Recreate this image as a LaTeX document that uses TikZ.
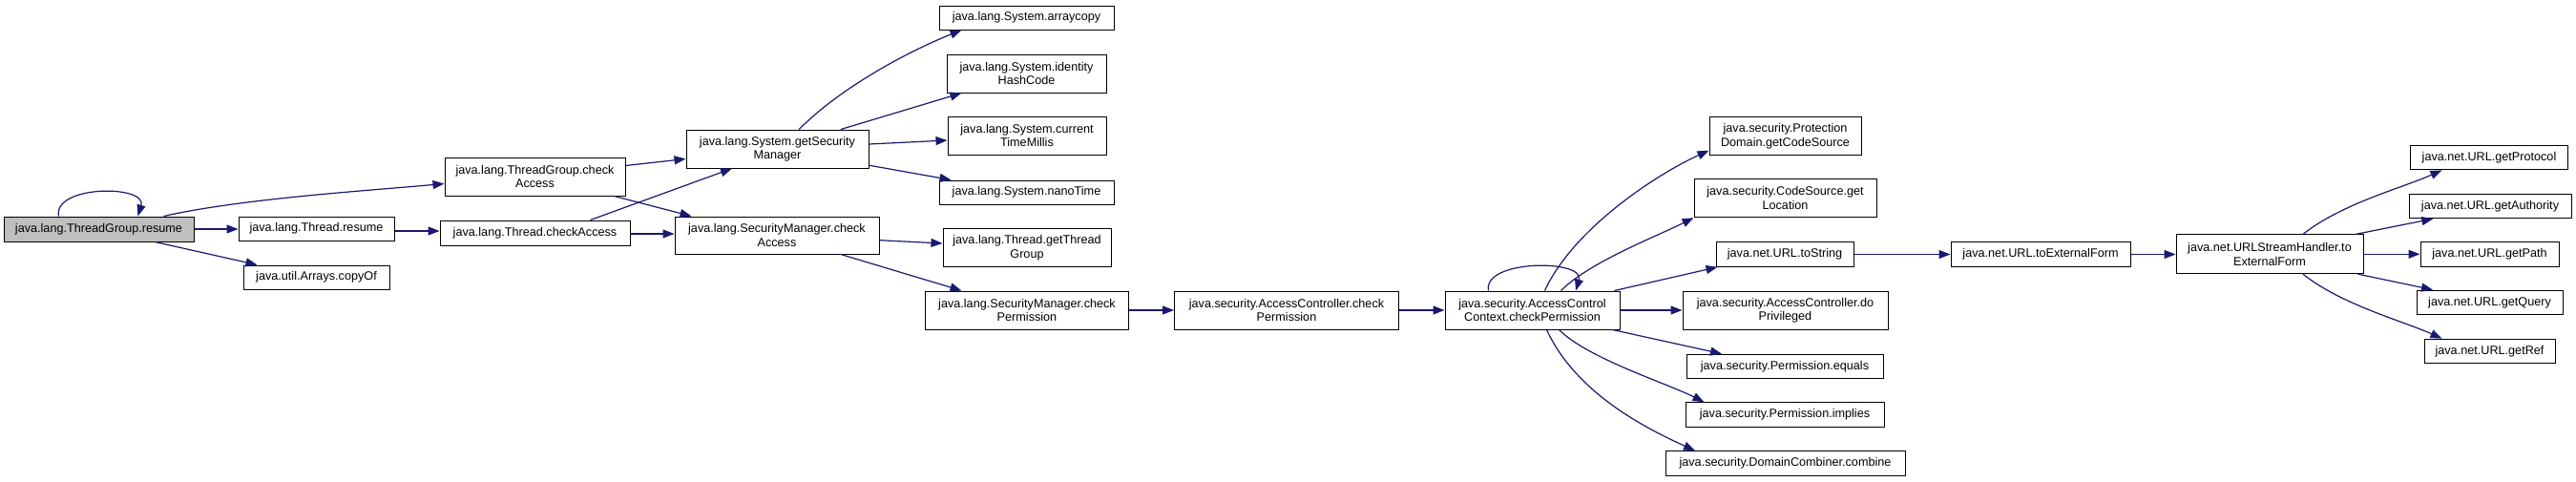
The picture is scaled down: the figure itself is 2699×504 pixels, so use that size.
\documentclass[tikz,border=0pt]{standalone}
\usepackage{fontspec}
\setmainfont{Liberation Sans}
\usetikzlibrary{arrows.meta,calc}
\definecolor{edgeblue}{HTML}{191970}
\definecolor{rootgray}{HTML}{BFBFBF}
\tikzset{
  box/.style={draw=black, fill=white, line width=1pt, inner sep=0pt, align=center,
    font=\fontsize{12.65}{14.5}\selectfont},
  rootbox/.style={box, fill=rootgray},
  edge/.style={draw=edgeblue, line width=1.2pt, -{Triangle[length=12pt,width=9pt]}},
}
\begin{document}
\begin{tikzpicture}[x=1pt,y=-1pt]
\useasboundingbox (0,0) rectangle (2699,504);
% column 1
\node[rootbox, minimum width=199pt, minimum height=26pt] (r0) at (103.5,240) {java.lang.ThreadGroup.resume};
% column 2
\node[box, minimum width=163pt, minimum height=25pt] (thrResume) at (331.5,239.5) {java.lang.Thread.resume};
\node[box, minimum width=153pt, minimum height=25pt] (copyOf) at (331.5,290.5) {java.util.Arrays.copyOf};
% column 3
\node[box, minimum width=189pt, minimum height=40pt] (tgCheck) at (560.5,185) {java.lang.ThreadGroup.check\\Access};
\node[box, minimum width=199pt, minimum height=26pt] (thrCheck) at (560.5,244) {java.lang.Thread.checkAccess};
% column 4
\node[box, minimum width=191pt, minimum height=40pt] (getSM) at (814.5,156) {java.lang.System.getSecurity\\Manager};
\node[box, minimum width=214pt, minimum height=39pt] (smCA) at (814,246.5) {java.lang.SecurityManager.check\\Access};
% column 5
\node[box, minimum width=183pt, minimum height=25pt] (arraycopy) at (1075.5,18.5) {java.lang.System.arraycopy};
\node[box, minimum width=167pt, minimum height=40pt] (identity) at (1075.5,77) {java.lang.System.identity\\HashCode};
\node[box, minimum width=166pt, minimum height=40pt] (current) at (1076,142) {java.lang.System.current\\TimeMillis};
\node[box, minimum width=183pt, minimum height=25pt] (nano) at (1075.5,201.5) {java.lang.System.nanoTime};
\node[box, minimum width=176pt, minimum height=40pt] (getTG) at (1076,259.5) {java.lang.Thread.getThread\\Group};
\node[box, minimum width=213pt, minimum height=40pt] (smCP) at (1076,325) {java.lang.SecurityManager.check\\Permission};
% column 6-7
\node[box, minimum width=235pt, minimum height=40pt] (acCP) at (1348,325) {java.security.AccessController.check\\Permission};
\node[box, minimum width=183pt, minimum height=40pt] (accCP) at (1605.5,325) {java.security.AccessControl\\Context.checkPermission};
% column 8
\node[box, minimum width=159pt, minimum height=40pt] (pd) at (1870.5,142.5) {java.security.Protection\\Domain.getCodeSource};
\node[box, minimum width=191pt, minimum height=40pt] (cs) at (1870.5,207.7) {java.security.CodeSource.get\\Location};
\node[box, minimum width=144pt, minimum height=25.6pt] (urlToString) at (1870,266.5) {java.net.URL.toString};
\node[box, minimum width=215pt, minimum height=40pt] (doPriv) at (1870.5,325) {java.security.AccessController.do\\Privileged};
\node[box, minimum width=206pt, minimum height=25.6pt] (equals) at (1870,384) {java.security.Permission.equals};
\node[box, minimum width=208pt, minimum height=25.6pt] (implies) at (1870,434.5) {java.security.Permission.implies};
\node[box, minimum width=251pt, minimum height=25.6pt] (combine) at (1870.5,485.5) {java.security.DomainCombiner.combine};
% column 9-10
\node[box, minimum width=188pt, minimum height=25.6pt] (urlToExt) at (2138,266.5) {java.net.URL.toExternalForm};
\node[box, minimum width=196pt, minimum height=40.7pt] (ush) at (2378,266.3) {java.net.URLStreamHandler.to\\ExternalForm};
% column 11
\node[box, minimum width=165pt, minimum height=25.7pt] (getProtocol) at (2608,165) {java.net.URL.getProtocol};
\node[box, minimum width=170pt, minimum height=25.4pt] (getAuthority) at (2609,216) {java.net.URL.getAuthority};
\node[box, minimum width=145pt, minimum height=25.6pt] (getPath) at (2608.5,266.5) {java.net.URL.getPath};
\node[box, minimum width=153pt, minimum height=25.7pt] (getQuery) at (2608.5,317) {java.net.URL.getQuery};
\node[box, minimum width=137pt, minimum height=25.7pt] (getRef) at (2608.5,368) {java.net.URL.getRef};

% edges
\draw[edge] ($(r0.north west)+(58,0)$) .. controls +(-6,-33) and +(10,-33) .. ($(r0.north west)+(141,0)$);
\draw[edge] ($(r0.north west)+(168,0)$) .. controls +(80,-18) and +(-90,8) .. ($(tgCheck.north west)+(0,28)$);
\draw[edge] (r0.east) -- (r0.east -| thrResume.west);
\draw[edge] ($(r0.south west)+(159,0)$) -- ($(copyOf.north west)+(15,0)$);
\draw[edge] ($(thrResume.east)+(0,2.5)$) -- ($(thrCheck.west)+(0,-2)$);
\draw[edge] ($(tgCheck.north east)+(0,9)$) -- ($(getSM.north west)+(0,31)$);
\draw[edge] ($(tgCheck.south east)+(-12,0)$) -- ($(smCA.north west)+(18,0)$);
\draw[edge] ($(thrCheck.north east)+(-42,0)$) -- ($(getSM.south west)+(48.5,0)$);
\draw[edge] ($(thrCheck.east)+(0,1)$) -- ($(smCA.west)+(0,-1.5)$);
\draw[edge] ($(getSM.north west)+(118.7,0)$) .. controls +(45,-45) and +(-55,22) .. ($(arraycopy.south west)+(24,0)$);
\draw[edge] ($(getSM.north west)+(162.5,0)$) -- ($(identity.south west)+(16,0)$);
\draw[edge] ($(getSM.east)+(0,-5)$) -- ($(current.west)+(0,5)$);
\draw[edge] ($(getSM.south east)+(0,-3.3)$) -- ($(nano.north west)+(13,0)$);
\draw[edge] ($(smCA.east)+(0,5.2)$) -- ($(getTG.west)+(0,-4.5)$);
\draw[edge] ($(smCA.south west)+(174.5,0)$) -- ($(smCP.north west)+(38.5,0)$);
\draw[edge] (smCP.east) -- (acCP.west);
\draw[edge] (acCP.east) -- (accCP.west);
\draw[edge] ($(accCP.north west)+(46,0)$) .. controls +(-6,-33) and +(10,-33) .. ($(accCP.north west)+(137.5,0)$);
\draw[edge] ($(accCP.north west)+(105,0)$) .. controls +(30,-65) and +(-55,25) .. ($(pd.south west)+(0,-5.3)$);
\draw[edge] ($(accCP.north west)+(122,0)$) .. controls +(30,-30) and +(-40,20) .. (cs.south west);
\draw[edge] ($(accCP.north west)+(178,0)$) -- ($(urlToString.south west)+(2,0)$);
\draw[edge] (accCP.east) -- (doPriv.west);
\draw[edge] ($(accCP.south west)+(176,0)$) -- ($(equals.north west)+(37.5,0)$);
\draw[edge] ($(accCP.south west)+(120,0)$) .. controls +(30,30) and +(-40,-20) .. ($(implies.north west)+(20,0)$);
\draw[edge] ($(accCP.south west)+(107,0)$) .. controls +(30,65) and +(-55,-25) .. ($(combine.north west)+(31.5,0)$);
\draw[edge] (urlToString.east) -- (urlToExt.west);
\draw[edge] (urlToExt.east) -- (urlToExt.east -| ush.west);
\draw[edge] ($(ush.north west)+(133.4,0)$) .. controls +(40,-32) and +(-40,18) .. ($(getProtocol.south west)+(33.4,0)$);
\draw[edge] ($(ush.north west)+(188.4,0)$) -- ($(getAuthority.south west)+(25.8,0)$);
\draw[edge] (ush.east) -- (ush.east -| getPath.west);
\draw[edge] ($(ush.south west)+(191,0)$) -- ($(getQuery.north west)+(17.5,0)$);
\draw[edge] ($(ush.south west)+(133.4,0)$) .. controls +(40,32) and +(-40,-18) .. ($(getRef.north west)+(19,0)$);
\end{tikzpicture}
\end{document}
